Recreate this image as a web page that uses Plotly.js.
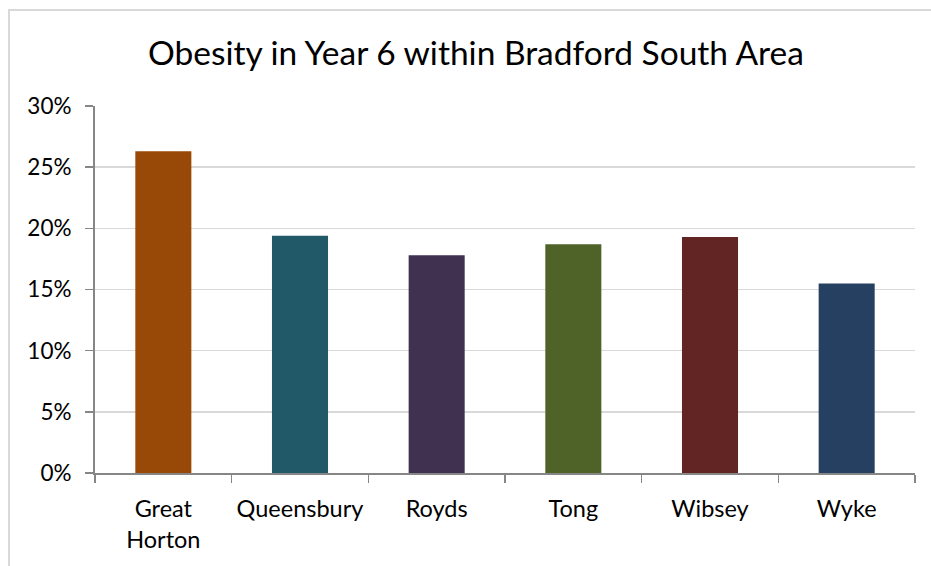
<!DOCTYPE html>
<html>
<head>
<meta charset="utf-8">
<script src="https://cdn.plot.ly/plotly-3.0.1.min.js"></script>
<style>
  html, body { margin: 0; padding: 0; background: #ffffff; }
  #chart { width: 931px; height: 566px; }
</style>
</head>
<body>
<div id="chart"></div>
<script>
// Wards of the Bradford South area
var wards = ["Great<br>Horton", "Queensbury", "Royds", "Tong", "Wibsey", "Wyke"];
// Share of Year 6 children classed as obese
var obesityShare = [0.263, 0.194, 0.178, 0.187, 0.193, 0.155];
// One fill per ward
var barColors = ["#984807", "#215968", "#403151", "#4F6228", "#632523", "#254061"];
// Y axis ticks
var yTickValues = [0, 0.05, 0.10, 0.15, 0.20, 0.25, 0.30];

var fontFamily = "Lato, 'Open Sans', sans-serif";

var trace = {
  type: "bar",
  x: wards,
  y: obesityShare,
  marker: { color: barColors, line: { width: 0 } },
  width: 0.41,
  hoverinfo: "x+y"
};

// plot area runs from x 95 to 915 and y 106 to 473
var L = 95, R = 915, T = 106, B = 473, W = 931, H = 566;
var pw = R - L, ph = B - T;

var layout = {
  width: W,
  height: H,
  margin: { l: L, r: W - R, t: T, b: H - B, pad: 0 },
  paper_bgcolor: "#ffffff",
  plot_bgcolor: "#ffffff",
  showlegend: false,
  bargap: 0.59,
  title: {
    text: "Obesity in Year 6 within Bradford South Area",
    font: { family: fontFamily, size: 33.5, color: "#000000" },
    x: 476 / W,
    xanchor: "center",
    y: 1 - 53 / H,
    yanchor: "middle",
    xref: "container",
    yref: "container"
  },
  xaxis: {
    type: "category",
    tickson: "boundaries",
    ticks: "outside",
    ticklen: 8,
    tickwidth: 1.5,
    tickcolor: "#868686",
    ticklabelstandoff: 14,
    showline: true,
    linecolor: "#868686",
    linewidth: 2,
    showgrid: false,
    zeroline: false,
    tickfont: { family: fontFamily, size: 23.5, color: "#000000" },
    fixedrange: true
  },
  yaxis: {
    range: [0, 0.30],
    tickvals: yTickValues,
    tickformat: ".0%",
    ticks: "outside",
    ticklen: 8,
    tickwidth: 1.5,
    tickcolor: "#868686",
    ticklabelstandoff: 9,
    showline: true,
    linecolor: "#868686",
    linewidth: 2,
    showgrid: true,
    gridcolor: "#d9d9d9",
    gridwidth: 1.5,
    zeroline: false,
    tickfont: { family: fontFamily, size: 22.5, color: "#000000" },
    fixedrange: true
  },
  shapes: [
    {
      // outer chart frame (left and top edges visible)
      type: "rect",
      xref: "paper", yref: "paper",
      x0: (9 - L) / pw, x1: (W + 20 - L) / pw,
      y0: -(H + 20 - B) / ph, y1: (B - 10) / ph,
      line: { color: "#d9d9d9", width: 2 },
      fillcolor: "rgba(0,0,0,0)",
      layer: "below"
    }
  ]
};

Plotly.newPlot("chart", [trace], layout, { displayModeBar: false, staticPlot: true });
</script>
</body>
</html>
